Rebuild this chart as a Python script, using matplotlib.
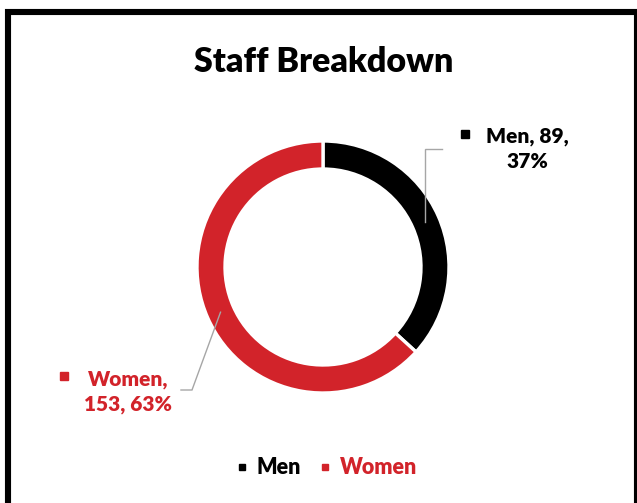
import matplotlib
matplotlib.use("Agg")
import matplotlib.pyplot as plt
from matplotlib.lines import Line2D
from matplotlib.patches import Rectangle
import numpy as np

plt.rcParams['font.family'] = ['Lato', 'DejaVu Sans']

# data
categories = ['Men', 'Women']
counts = [89, 153]
colors = ['#000000', '#D2232A']
title = 'Staff Breakdown'

W, H = 637, 503
fig = plt.figure(figsize=(W / 100, H / 100), dpi=100)
ax = fig.add_axes([0, 0, 1, 1])


def Y(y):
    # pixel row (from top) -> data y
    return H - y


cx, cy = 323, 267
r_out, ring = 126, 28

wedges, _ = ax.pie(counts, colors=colors, startangle=90, counterclock=False,
                   center=(cx, Y(cy)), radius=r_out,
                   wedgeprops=dict(width=ring, edgecolor='white', linewidth=2.4))
ax.set_xlim(0, W)
ax.set_ylim(0, H)
ax.set_aspect('equal')
ax.axis('off')

# outer frame
ax.add_patch(Rectangle((8, Y(12) - 700), 629, 700, fill=False,
                       edgecolor='black', linewidth=4.4, clip_on=True))

fig.text(324 / W, 1 - 62 / H, title, ha='center', va='center',
         fontsize=24.5, fontweight='heavy', color='black')

# data labels with leader lines
total = sum(counts)
label_pos = [(527, 149), (128, 392)]
square_pos = [(465, 134), (64, 376)]
elbows = [[None, 149, 442], [(192, 390), (181, 390)]]
texts = ['{}, {},\n{:.0%}'.format(categories[0], counts[0], counts[0] / total),
         '{},\n{}, {:.0%}'.format(categories[1], counts[1], counts[1] / total)]

start = 0.0
for i, (c, col) in enumerate(zip(counts, colors)):
    frac_mid = (start + c / 2) / total
    start += c
    ang = np.deg2rad(90 - frac_mid * 360)
    rm = r_out - ring / 2
    ax_, ay_ = cx + rm * np.cos(ang), cy - rm * np.sin(ang)
    if i == 0:
        pts = [(ax_, ay_), (ax_, elbows[0][1]), (elbows[0][2], elbows[0][1])]
    else:
        pts = [(ax_, ay_)] + elbows[1]
    ax.plot([p[0] for p in pts], [Y(p[1]) for p in pts], color='#A6A6A6',
            linewidth=1.0, solid_joinstyle='miter')
    lx, ly = label_pos[i]
    ax.text(lx, Y(ly), texts[i], ha='center', va='center', multialignment='center',
            fontsize=15, fontweight='heavy', color=col, linespacing=1.4)
    sx, sy = square_pos[i]
    ax.plot(sx, Y(sy), marker='s', markersize=6, color=col, linestyle='none')

handles = [Line2D([], [], marker='s', color=c, linestyle='none', markersize=5)
           for c in colors]
ax.legend(handles, categories, loc='center', bbox_to_anchor=(326 / W, 1 - 468 / H),
          ncol=2, frameon=False, handlelength=0.6, handletextpad=0.4,
          columnspacing=0.8, labelcolor=colors,
          prop=dict(family='Lato', weight='heavy', size=15.5))

fig.savefig('out.png', dpi=100)
